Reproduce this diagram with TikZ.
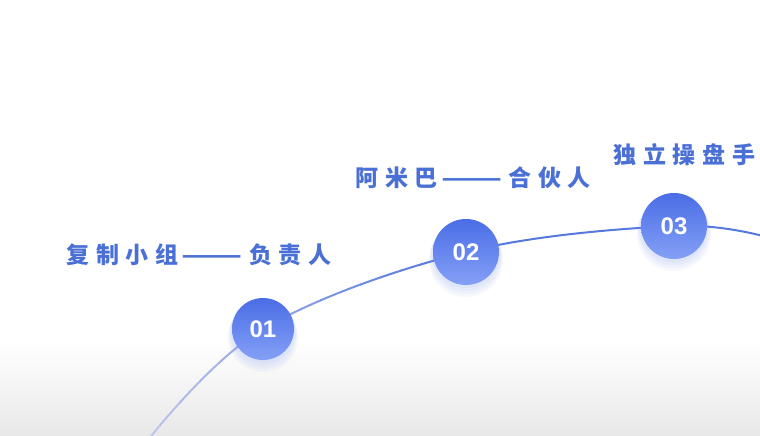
\documentclass[tikz,border=0pt]{standalone}
\usepackage{fontspec}
\newfontfamily\cjk[LetterSpace=30]{Noto Sans CJK SC}
\newfontfamily\numfont{Liberation Sans}
\newcommand{\fwdash}{\hspace{3pt}\scalebox{1.55}[1]{——}\hspace{6pt}}
\definecolor{txtblue}{HTML}{4A70D6}
\definecolor{linedark}{HTML}{5679DF}
\definecolor{linelight}{HTML}{BCC6EA}
\definecolor{circtop}{HTML}{4A6DE6}
\definecolor{circbot}{HTML}{84A0F6}
\definecolor{shadowc}{HTML}{6F8BE8}
\definecolor{bggray}{HTML}{E8E8E8}
\tikzset{
  label/.style={anchor=west, inner sep=0pt, text=txtblue, font=\cjk\bfseries\fontsize{23}{27}\selectfont},
  numtxt/.style={text=white, font=\numfont\bfseries\fontsize{24}{28}\selectfont},
}
\begin{document}
\begin{tikzpicture}[x=1pt,y=-1pt]
\useasboundingbox (0,0) rectangle (760,436);
\fill[white] (0,0) rectangle (760,436);
\shade[top color=white, bottom color=bggray] (0,340) rectangle (760,436.5);
% curve drawn in colour strips
\def\curvepath{plot[smooth, tension=0.6] coordinates {(148,440) (263,329) (466,252) (674,226) (770,238)}}
\foreach \i in {0,...,15}{
  \pgfmathsetmacro{\p}{min(100,\i*7)}
  \begin{scope}
    \clip (140+20*\i,150) rectangle (160+20*\i+0.5,440);
    \draw[line width=2pt, color=linedark!\p!linelight] \curvepath;
  \end{scope}
}
\begin{scope}
  \clip (460,150) rectangle (770,440);
  \draw[line width=2pt, color=linedark] \curvepath;
\end{scope}
% circles
\foreach \n/\x/\y/\r in {01/263/329/31, 02/466/252/33, 03/674/226/33}{
  \foreach \s in {2,4,6,8}{
    \fill[shadowc, opacity=0.06] (\x,\y+\s) circle (\r+0.5*\s);
  }
  \shade[top color=circtop, bottom color=circbot] (\x,\y) circle (\r);
  \node[numtxt] (c\n) at (\x,\y) {\n};
}
\node[label] (t1) at (66,255) {复制小组\fwdash 负责人};
\node[label] (t2) at (355,178) {阿米巴\fwdash 合伙人};
\node[label] (t3) at (613,155) {独立操盘手};
\end{tikzpicture}
\end{document}
